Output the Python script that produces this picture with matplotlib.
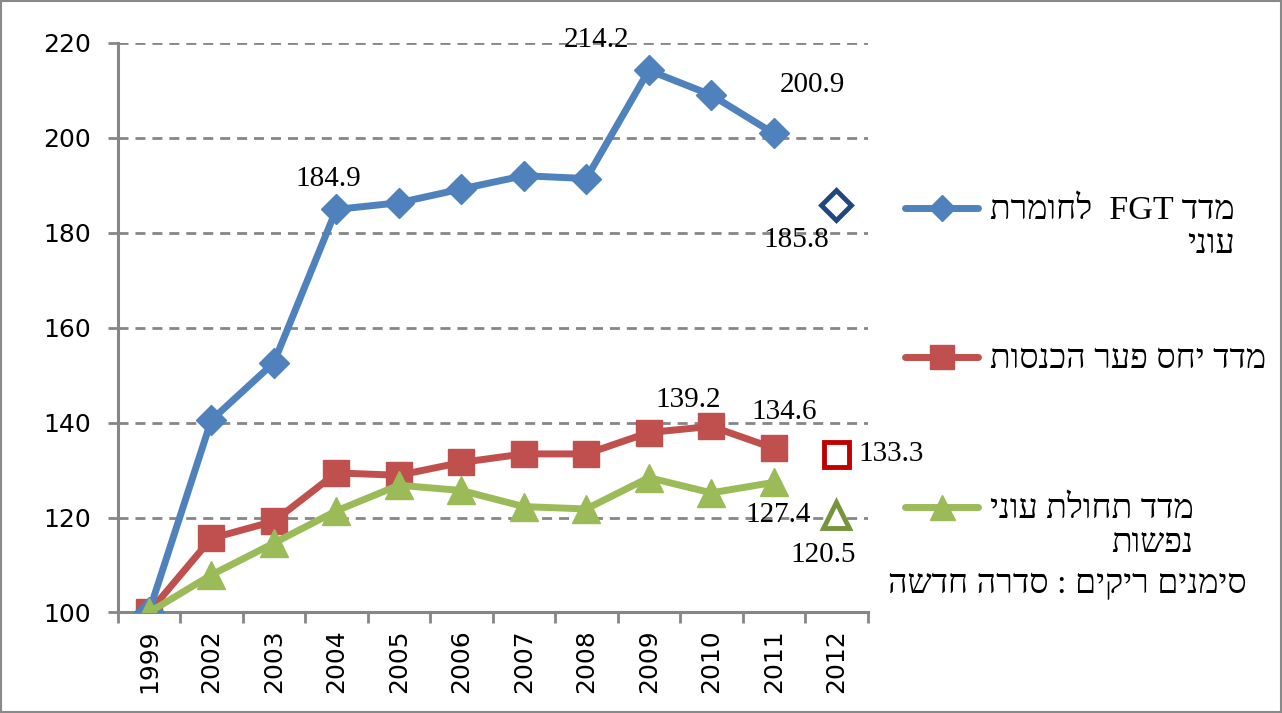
import re
import matplotlib
matplotlib.use("Agg")
import matplotlib.pyplot as plt
from matplotlib.lines import Line2D
from matplotlib.patches import Rectangle

years = ['1999', '2002', '2003', '2004', '2005', '2006', '2007', '2008', '2009', '2010', '2011', '2012']
fgt = [100, 140.5, 152.6, 184.9, 186.3, 189.2, 192.0, 191.4, 214.2, 209.0, 200.9]
gap = [100, 115.6, 119.2, 129.4, 128.9, 131.6, 133.4, 133.4, 137.9, 139.2, 134.6]
depth = [100, 107.9, 114.6, 121.4, 126.8, 125.7, 122.3, 121.8, 128.4, 125.2, 127.4]
# new series, 2012 only (hollow markers)
fgt_new = 185.8
gap_new = 133.3
depth_new = 120.5

labels = [['מדד FGT  לחומרת', 'עוני'], ['מדד יחס פער הכנסות'], ['מדד תחולת עוני', 'נפשות']]
note = 'סימנים ריקים : סדרה חדשה'

blue, red, green = '#4F81BD', '#C0504D', '#9BBB59'
grey = '#868686'
heb_font = ['Liberation Serif', 'DejaVu Serif']


def rtl(s):
    # matplotlib has no bidi: reverse hebrew to visual order, keep latin/digit runs
    r = s[::-1]
    return re.sub(r'[A-Za-z0-9.]+', lambda m: m.group(0)[::-1], r)


fig = plt.figure(figsize=(12.82, 7.13), dpi=100)
ax = fig.add_axes([0.0917, 0.141, 0.585, 0.799])

x = list(range(len(fgt)))
last = len(years) - 1

ax.plot(x, gap, color=red, lw=5, marker='s', ms=19, zorder=3)
ax.plot(x, fgt, color=blue, lw=5, marker='D', ms=15, zorder=4)
ax.plot(x, depth, color=green, lw=5, marker='^', ms=20, zorder=5)

ax.plot([last], [fgt_new], ls='none', marker='D', ms=15, mfc='white', mec='#1F497D', mew=3.5, zorder=5)
ax.plot([last], [gap_new], ls='none', marker='s', ms=18, mfc='white', mec='#C00000', mew=3.5, zorder=5)
ax.plot([last], [depth_new], ls='none', marker='^', ms=19, mfc='white', mec='#77933C', mew=3.5, zorder=5)

lab_font = dict(family=['Liberation Serif', 'DejaVu Serif'], fontsize=21, color='black',
                ha='center', va='center', textcoords='offset pixels', zorder=6)
ax.annotate(f'{fgt[3]}', (3, fgt[3]), xytext=(-8, 30), **lab_font)
ax.annotate(f'{fgt[8]}', (8, fgt[8]), xytext=(-52, 30), **lab_font)
ax.annotate(f'{fgt[10]}', (10, fgt[10]), xytext=(39, 48), **lab_font)
ax.annotate(f'{fgt_new}', (last, fgt_new), xytext=(-40, -35), **lab_font)
ax.annotate(f'{gap[9]}', (9, gap[9]), xytext=(-23, 26), **lab_font)
ax.annotate(f'{gap[10]}', (10, gap[10]), xytext=(10, 36), **lab_font)
ax.annotate(f'{gap_new}', (last, gap_new), xytext=(55, 0), **lab_font)
ax.annotate(f'{depth[10]}', (10, depth[10]), xytext=(4, -33), **lab_font)
ax.annotate(f'{depth_new}', (last, depth_new), xytext=(-13, -40), **lab_font)

ax.set_xlim(-0.5, last + 0.5)
ax.set_ylim(100, 220)
ax.set_yticks(range(100, 221, 20))
ax.set_xticks(range(len(years)))
ax.set_xticklabels(years, rotation=90)
ax.set_xticks([i - 0.5 for i in range(len(years) + 1)], minor=True)
ax.tick_params(axis='x', which='major', length=0, pad=12, labelsize=18)
ax.tick_params(axis='x', which='minor', length=8, width=2, color=grey)
ax.tick_params(axis='y', length=7, width=2, color=grey, labelsize=18, pad=12)

ax.yaxis.grid(True, color=grey, lw=2, ls=(0, (3.6, 2.5)))
ax.set_axisbelow(True)
for side in ['top', 'right']:
    ax.spines[side].set_visible(False)
for side in ['left', 'bottom']:
    ax.spines[side].set_color(grey)
    ax.spines[side].set_linewidth(2.2)
ax.spines['bottom'].set_zorder(2.5)

# legend, drawn by hand so the hebrew lines can be right-aligned
W, H = 1282, 713
handles = [(blue, 'D', 13, 208), (red, 's', 17, 357), (green, '^', 18, 507)]
fig.canvas.draw()
renderer = fig.canvas.get_renderer()
for (c, m, ms, yp), lines in zip(handles, labels):
    fy = 1 - yp / H
    fig.add_artist(Line2D([905 / W, 978 / W], [fy, fy], transform=fig.transFigure,
                          color=c, lw=5, solid_capstyle='round'))
    fig.add_artist(Line2D([942 / W], [fy], transform=fig.transFigure,
                          color=c, marker=m, ms=ms))
    t = fig.text(990 / W, 1 - (yp + 11) / H, rtl(lines[0]), ha='left', va='baseline',
                 fontsize=24.5, family=heb_font)
    right = t.get_window_extent(renderer).x1 / W
    for k, ln in enumerate(lines[1:], 1):
        fig.text(right, 1 - (yp + 11 + 34 * k) / H, rtl(ln), ha='right', va='baseline',
                 fontsize=24.5, family=heb_font)
fig.text(1247 / W, 1 - 593 / H, rtl(note), ha='right', va='baseline',
         fontsize=24.5, family=heb_font)

fig.add_artist(Rectangle((0.001, 0.001), 0.998, 0.997, transform=fig.transFigure,
                         fill=False, ec='#898989', lw=1.5))

fig.savefig('out.png', dpi=100)
